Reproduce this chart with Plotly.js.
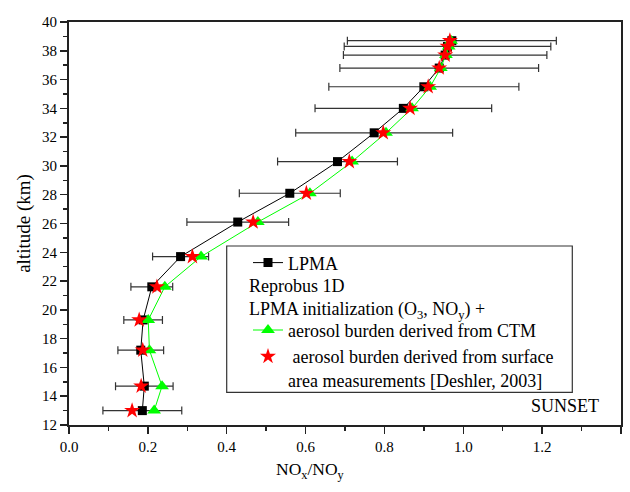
<!DOCTYPE html>
<html>
<head>
<meta charset="utf-8">
<script src="https://cdn.plot.ly/plotly-3.0.1.min.js"></script>
<style>
  html, body { margin: 0; padding: 0; background: #fff; }
  #chart { width: 630px; height: 492px; }
</style>
</head>
<body>
<div id="chart"></div>
<script>
// ---- data ----
const altitude = [13.0, 14.7, 17.2, 19.3, 21.6, 23.7, 26.1, 28.1, 30.3, 32.3, 34.0, 35.5, 36.8, 37.7, 38.3, 38.7];
const lpma     = [0.186, 0.191, 0.182, 0.188, 0.210, 0.283, 0.428, 0.560, 0.681, 0.774, 0.848, 0.900, 0.939, 0.954, 0.960, 0.971];
const lpmaErr  = [0.100, 0.073, 0.058, 0.049, 0.053, 0.071, 0.129, 0.128, 0.152, 0.199, 0.224, 0.241, 0.252, 0.258, 0.262, 0.265];
const ctm      = [0.216, 0.236, 0.204, 0.201, 0.243, 0.335, 0.479, 0.611, 0.718, 0.804, 0.870, 0.916, 0.943, 0.956, 0.963, 0.969];
const deshler  = [0.160, 0.183, 0.187, 0.178, 0.223, 0.313, 0.467, 0.602, 0.711, 0.797, 0.865, 0.911, 0.939, 0.954, 0.960, 0.966];

const seriesNames = [
  'LPMA',
  'aerosol burden derived from CTM',
  ' aerosol burden derived from surface<br>area measurements [Deshler, 2003]'
];
const legendTextLines = ['Reprobus 1D', 'LPMA initialization (O<sub>3</sub>, NO<sub>y</sub>) +'];
const panelLabel = 'SUNSET';
const xTitle = 'NO<sub>x</sub>/NO<sub>y</sub>';
const yTitle = 'altitude (km)';

const FONT = 'Liberation Serif, Times New Roman, serif';
const LFS = 18;

const traces = [
  {
    x: lpma, y: altitude, name: seriesNames[0], type: 'scatter', mode: 'lines+markers',
    line: { color: '#000', width: 1 },
    marker: { symbol: 'square', size: 9, color: '#000' },
    error_x: { type: 'data', array: lpmaErr, visible: true, color: '#333', thickness: 1.2, width: 4 },
    legendgroup: 'a'
  },
  {
    x: ctm, y: altitude, name: seriesNames[1], type: 'scatter', mode: 'lines+markers',
    line: { color: '#00ff00', width: 1 },
    marker: { symbol: 'triangle-up', size: 12, color: '#00ff00' },
    legendgroup: 'b'
  },
  {
    x: deshler, y: altitude, name: seriesNames[2], type: 'scatter', mode: 'markers',
    marker: { symbol: 'star', size: 12, color: '#ff0000', line: { width: 0 } },
    legendgroup: 'b'
  }
];

const W = 630, H = 492;
const M = { l: 69, r: 9, t: 22, b: 67 };
const pw = W - M.l - M.r, ph = H - M.t - M.b;
const px = v => (v - M.l) / pw;
const py = v => 1 - (v - M.t) / ph;

const axisCommon = {
  showgrid: false, zeroline: false,
  showline: true, mirror: true, linecolor: '#222', linewidth: 2,
  ticks: 'outside', ticklen: 7, tickwidth: 1.5, tickcolor: '#222',
  tickfont: { family: FONT, size: 15, color: '#000' },
  automargin: false
};

const layout = {
  width: W, height: H,
  margin: M,
  paper_bgcolor: '#fff', plot_bgcolor: '#fff',
  font: { family: FONT, color: '#000' },
  showlegend: true,
  legend: {
    x: px(248), y: py(244.4), xanchor: 'left', yanchor: 'top',
    bgcolor: 'rgba(0,0,0,0)', borderwidth: 0,
    font: { family: FONT, size: LFS, color: '#000' },
    traceorder: 'grouped', tracegroupgap: 41, valign: 'top'
  },
  xaxis: Object.assign({}, axisCommon, {
    range: [0, 1.4], dtick: 0.2, tick0: 0, tickformat: '.1f',
    minor: { dtick: 0.1, ticks: 'outside', ticklen: 4, tickwidth: 1.5, tickcolor: '#222', showgrid: false }
  }),
  yaxis: Object.assign({}, axisCommon, {
    range: [12, 40], dtick: 2, tick0: 12,
    minor: { dtick: 1, ticks: 'outside', ticklen: 4, tickwidth: 1.5, tickcolor: '#222', showgrid: false },
    title: { text: yTitle, font: { family: FONT, size: 19, color: '#000' }, standoff: 6 }
  }),
  shapes: [
    { type: 'rect', xref: 'paper', yref: 'paper',
      x0: px(226.7), x1: px(572.3), y0: py(392.3), y1: py(246),
      line: { color: '#333', width: 1.2 }, fillcolor: 'rgba(0,0,0,0)' }
  ],
  annotations: [
    { xref: 'paper', yref: 'paper', x: px(246.5), y: py(286), xanchor: 'left', yanchor: 'middle',
      text: legendTextLines[0], showarrow: false, font: { family: FONT, size: LFS, color: '#000' } },
    { xref: 'paper', yref: 'paper', x: px(246.5), y: py(310), xanchor: 'left', yanchor: 'middle',
      text: legendTextLines[1], showarrow: false, font: { family: FONT, size: LFS, color: '#000' } },
    { xref: 'paper', yref: 'paper', x: px(601), y: py(406), xanchor: 'right', yanchor: 'middle',
      text: panelLabel, showarrow: false, font: { family: FONT, size: 18, color: '#000' } },
    { xref: 'paper', yref: 'paper', x: px(310), y: py(470), xanchor: 'center', yanchor: 'middle',
      text: xTitle, showarrow: false, font: { family: FONT, size: 17.5, color: '#000' } }
  ]
};

Plotly.newPlot('chart', traces, layout, { staticPlot: true, displayModeBar: false });
</script>
</body>
</html>
